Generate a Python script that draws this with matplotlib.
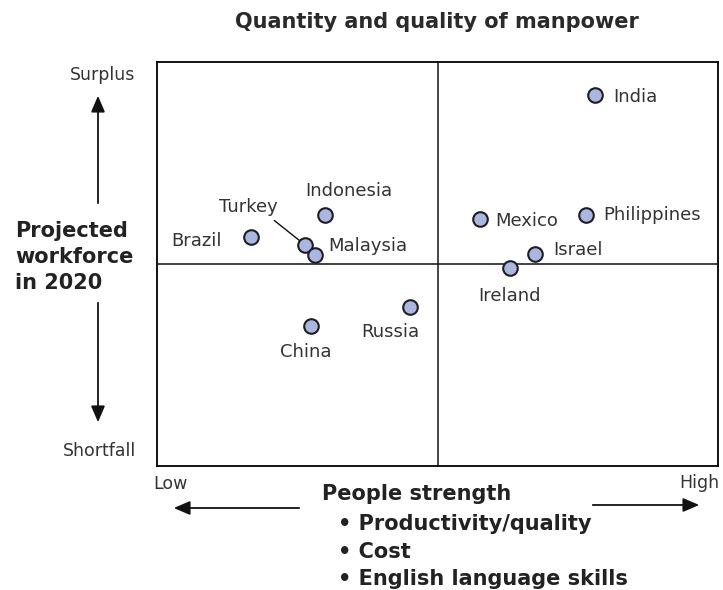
import matplotlib.pyplot as plt

# ---- data (people strength 0-10, projected workforce 0-10) ----
countries = ['India', 'Indonesia', 'Brazil', 'Turkey', 'Malaysia', 'Mexico',
             'Philippines', 'Israel', 'Ireland', 'Russia', 'China']
strength = [7.81, 2.99, 1.68, 2.64, 2.82, 5.76, 7.65, 6.74, 6.29, 4.51, 2.75]
workforce = [9.18, 6.21, 5.67, 5.47, 5.22, 6.11, 6.21, 5.25, 4.90, 3.94, 3.47]

# label placement (pixel offsets from the marker, alignment)
label_pos = {
    'India': (18, -2, 'left'),
    'Indonesia': (24, 24, 'center'),
    'Brazil': (-29, -4, 'right'),
    'Turkey': (-57, 38, 'center'),
    'Malaysia': (13, 9, 'left'),
    'Mexico': (15, -2, 'left'),
    'Philippines': (17, 0, 'left'),
    'Israel': (18, 4, 'left'),
    'Ireland': (0, -28, 'center'),
    'Russia': (-20, -25, 'center'),
    'China': (-6, -26, 'center'),
}

W, H = 723, 590
plt.rcParams['font.family'] = 'DejaVu Sans'
fig = plt.figure(figsize=(W / 100, H / 100), dpi=100)


def fp(x, y):
    # pixel position (from top-left) -> figure fraction
    return x / W, 1 - y / H


ax = fig.add_axes([157 / W, (H - 466) / H, 561 / W, 404 / H])
ax.set_xlim(0, 10)
ax.set_ylim(0, 10)
ax.set_xticks([])
ax.set_yticks([])
for s in ax.spines.values():
    s.set_linewidth(1.4)
    s.set_color('#111111')
ax.axvline(5, color='#111111', lw=1.1, zorder=1)
ax.axhline(5, color='#111111', lw=1.1, zorder=1)

ax.scatter(strength, workforce, s=110, facecolor='#a9b7e2', edgecolor='#1e1e1e',
           linewidth=1.5, zorder=3)

for name, x, y in zip(countries, strength, workforce):
    dx, dy, ha = label_pos[name]
    if name == 'Turkey':
        ax.annotate(name, (x, y), xytext=(dx, dy), textcoords='offset pixels',
                    ha=ha, va='center', fontsize=13, color='#333333',
                    arrowprops=dict(arrowstyle='-', color='#111111', lw=1.0,
                                    relpos=(0.85, 0.0), shrinkA=2, shrinkB=0),
                    zorder=2)
    else:
        ax.annotate(name, (x, y), xytext=(dx, dy), textcoords='offset pixels',
                    ha=ha, va='center', fontsize=13, color='#333333')

# title
fig.text(*fp(437, 22), 'Quantity and quality of manpower', ha='center', va='center',
         fontsize=15, fontweight='bold', color='#2a2a2a')

# vertical axis annotation
arrow = dict(arrowstyle='-|>,head_length=0.7,head_width=0.3', color='#111111',
             lw=1.3, mutation_scale=14)
fig.text(*fp(103, 75), 'Surplus', ha='center', va='center', fontsize=12.5, color='#333333')
fig.text(*fp(99, 451), 'Shortfall', ha='center', va='center', fontsize=12.5, color='#333333')
fig.text(*fp(15, 257), 'Projected\nworkforce\nin 2020', ha='left', va='center',
         fontsize=15, fontweight='bold', color='#222222', linespacing=1.4)
ax.annotate('', xy=fp(98, 93), xytext=fp(98, 206), xycoords='figure fraction',
            textcoords='figure fraction', annotation_clip=False, arrowprops=arrow)
ax.annotate('', xy=fp(98, 425), xytext=fp(98, 300), xycoords='figure fraction',
            textcoords='figure fraction', annotation_clip=False, arrowprops=arrow)

# horizontal axis annotation
fig.text(*fp(153, 484), 'Low', ha='left', va='center', fontsize=12.5, color='#333333')
fig.text(*fp(719, 483), 'High', ha='right', va='center', fontsize=12.5, color='#333333')
ax.annotate('', xy=fp(171, 508), xytext=fp(302, 508), xycoords='figure fraction',
            textcoords='figure fraction', annotation_clip=False, arrowprops=arrow)
ax.annotate('', xy=fp(702, 505), xytext=fp(590, 505), xycoords='figure fraction',
            textcoords='figure fraction', annotation_clip=False, arrowprops=arrow)

fig.text(*fp(322, 494), 'People strength', ha='left', va='center',
         fontsize=15, fontweight='bold', color='#222222')
bullets = ['\u2022 Productivity/quality', '\u2022 Cost', '\u2022 English language skills']
for i, b in enumerate(bullets):
    fig.text(*fp(338, 524 + 27.5 * i), b, ha='left', va='center',
             fontsize=15, fontweight='bold', color='#222222')

fig.savefig('out.png', dpi=100)
